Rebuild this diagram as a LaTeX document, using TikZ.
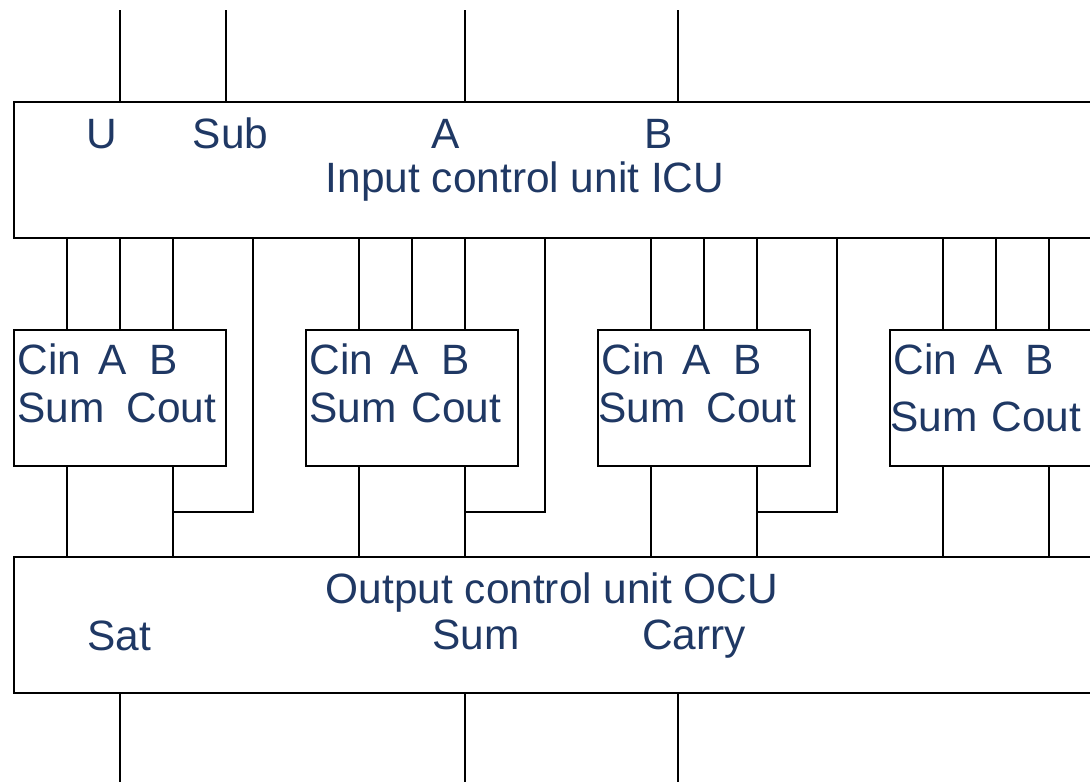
\documentclass[tikz,border=0pt]{standalone}
\usepackage{fontspec}
\setmainfont{Liberation Sans}
\definecolor{txt}{RGB}{31,56,100}
\begin{document}
\begin{tikzpicture}[x=0.5pt,y=-0.5pt,
  blk/.style={draw=black, line width=1.2pt, rectangle, anchor=north west, inner sep=0pt, outer sep=0pt, minimum height=68pt},
  wire/.style={draw=black, line width=1pt},
  lbl/.style={text=txt, font=\fontsize{21.2}{25}\selectfont, inner sep=0pt}]
\useasboundingbox (0,0) rectangle (1090,782);
\clip (0,0) rectangle (1090,782);
% units
\node[blk, minimum width=600pt] (icu) at (14,102) {};
\node[blk, minimum width=600pt] (ocu) at (14,557) {};
% ICU labels
\node[lbl, anchor=base] (lu) at (101.5,148) {U};
\node[lbl, anchor=base] (lsub) at (230.5,148) {Sub};
\node[lbl, anchor=base] (la) at (446,148) {A};
\node[lbl, anchor=base] (lb) at (658.5,148) {B};
\node[lbl, anchor=base] (licu) at (525,192) {Input control unit ICU};
% OCU labels
\node[lbl, anchor=base] (locu) at (552,603) {Output control unit OCU};
\node[lbl, anchor=base] (lsat) at (119,650) {Sat};
\node[lbl, anchor=base] (lsum) at (476,649) {Sum};
\node[lbl, anchor=base] (lcarry) at (694,649) {Carry};
% top inputs and bottom outputs
\foreach \i/\x in {1/120,2/226,3/465,4/678} {
  \coordinate (top\i) at (\x,10);
  \draw[wire] (top\i) -- (icu.north -| top\i);
}
\foreach \i/\x in {1/120,2/465,3/678} {
  \coordinate (bot\i) at (\x,782);
  \draw[wire] (ocu.south -| bot\i) -- (bot\i);
}
% adders
\foreach \k/\so/\co/\sb in {1/3/112/422, 2/3/105/422, 3/0/108/422, 4/0/101/431} {
  \pgfmathsetmacro\L{14+292*(\k-1)}
  \node[blk, minimum width=106pt] (add\k) at (\L,330) {};
  \node[lbl, anchor=base west] (cin\k) at (\L+3,374) {Cin};
  \node[lbl, anchor=base west] (aa\k) at (\L+84,374) {A};
  \node[lbl, anchor=base west] (bb\k) at (\L+135,374) {B};
  \node[lbl, anchor=base west] (ss\k) at (\L+\so,\sb) {Sum};
  \node[lbl, anchor=base west] (co\k) at (\L+\co,\sb) {Cout};
  \coordinate (pa\k) at (\L+53,0);
  \coordinate (pb\k) at (\L+106,0);
  \coordinate (pc\k) at (\L+159,0);
  \draw[wire] (icu.south -| pa\k) -- (add\k.north -| pa\k);
  \draw[wire] (icu.south -| pb\k) -- (add\k.north -| pb\k);
  \draw[wire] (icu.south -| pc\k) -- (add\k.north -| pc\k);
  \draw[wire] (add\k.south -| pa\k) -- (ocu.north -| pa\k);
  \draw[wire] (add\k.south -| pc\k) -- (ocu.north -| pc\k);
}
\foreach \k in {1,2,3} {
  \pgfmathsetmacro\L{14+292*(\k-1)}
  \coordinate (r\k) at (\L+239,512);
  \draw[wire] (icu.south -| r\k) -- (r\k) -- (r\k -| pc\k);
}
\end{tikzpicture}
\end{document}
